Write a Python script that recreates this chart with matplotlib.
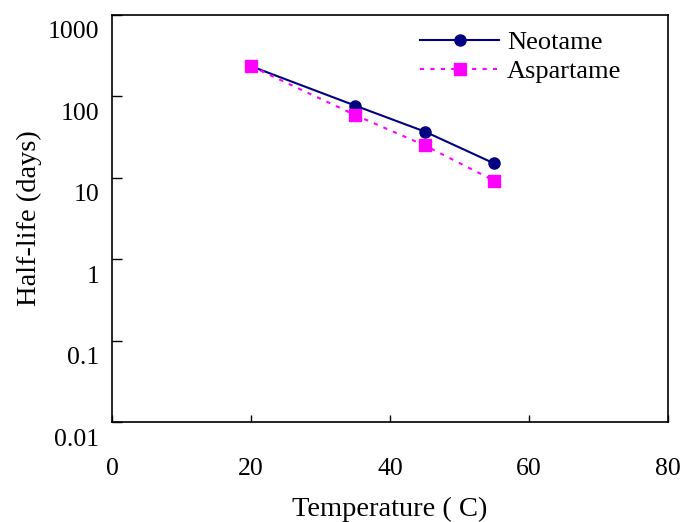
import matplotlib.pyplot as plt
import matplotlib.transforms as mtransforms

# data
neo_temp = [20, 35, 45, 55]
neo_halflife = [235, 77, 37, 15]
asp_temp = [20, 35, 45, 55]
asp_halflife = [235, 59, 25, 9.2]

x_ticks = [0, 20, 40, 60, 80]
y_ticks = [0.01, 0.1, 1, 10, 100, 1000]
y_labels = ['0.01', '0.1', '1', '10', '100', '1000']

plt.rcParams['font.family'] = 'Liberation Serif'

fig = plt.figure(figsize=(6.85, 5.22), dpi=100)
ax = fig.add_axes([112 / 685, 1 - 422 / 522, 556 / 685, 407 / 522])

ax.plot(neo_temp, neo_halflife, color='#000080', linewidth=1.5,
        marker='o', markersize=8, label='Neotame')
ax.plot(asp_temp, asp_halflife, color='#FF00FF', linewidth=1.5,
        linestyle=(0, (2, 3)), marker='s', markersize=8.5, label='Aspartame')

ax.set_yscale('log')
ax.set_xlim(0, 80)
ax.set_ylim(0.01, 1000)
ax.set_xticks(x_ticks)
ax.set_xticklabels([str(t) for t in x_ticks])
ax.set_yticks(y_ticks)
ax.set_yticklabels(y_labels)
ax.yaxis.set_minor_locator(plt.NullLocator())

ax.tick_params(axis='both', direction='in', labelsize=18.5, width=1, color='black')
ax.tick_params(axis='y', length=7, pad=9)
ax.tick_params(axis='x', length=5, pad=26)

# shift y tick labels down like the original
offset = mtransforms.ScaledTranslation(0, -15 / 100, fig.dpi_scale_trans)
for lbl in ax.get_yticklabels():
    lbl.set_transform(lbl.get_transform() + offset)

for sp in ax.spines.values():
    sp.set_linewidth(1.2)

ax.set_xlabel('Temperature ( C)', fontsize=20.5, labelpad=12)
ax.set_ylabel('Half-life (days)', fontsize=20.5, labelpad=4)

ax.legend(loc='upper right', frameon=False, fontsize=19, handlelength=3.0,
          handletextpad=0.3, labelspacing=0.2, borderaxespad=0.2,
          bbox_to_anchor=(0.945, 1.0))

fig.savefig('out.png', dpi=100)
